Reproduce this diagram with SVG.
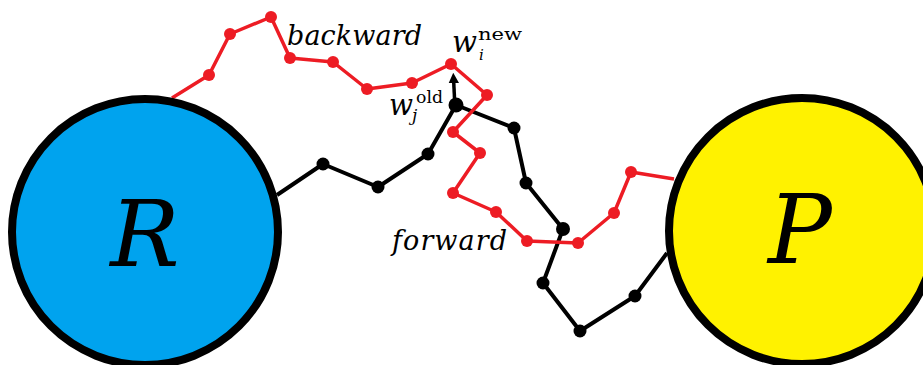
<svg xmlns="http://www.w3.org/2000/svg" width="923" height="365" viewBox="0 0 923 365">
<defs>
<style>
.blk{fill:none;stroke:#000;stroke-width:4;stroke-linejoin:round}
.red{fill:none;stroke:#ED1C24;stroke-width:3.5;stroke-linejoin:round}
.bd{fill:#000}
.rd{fill:#ED1C24}
.node{stroke:#000;stroke-width:8}
</style>
<marker id="ah" viewBox="0 0 10 10" refX="5" refY="5" markerWidth="3" markerHeight="3" orient="auto">
<path d="M0,0 L10,5 L0,10 Z" fill="#000"/>
</marker>
</defs>
<rect width="923" height="365" fill="#fff"/>
<g id="connectors">
<polyline class="blk" points="277,195 323,164 378,187 428,154 456,105 514,128 526,183 563,229 543,283 580,331 635,296 667,253"/>
<g class="bd">
<circle cx="323" cy="164" r="6.5"/><circle cx="378" cy="187" r="6.5"/><circle cx="428" cy="154" r="6.5"/><circle cx="456" cy="105" r="7.5"/><circle cx="514" cy="128" r="6.5"/><circle cx="526" cy="183" r="6.5"/><circle cx="563" cy="229" r="7"/><circle cx="543" cy="283" r="6.5"/><circle cx="580" cy="331" r="6.5"/><circle cx="635" cy="296" r="6.5"/>
</g>
<polyline class="red" points="172,98 209,75 230,34 271,17 290,58 333,62 367,89 412,83 451,64 487,95 453,132 480,153 453,193 496,212 527,241 578,243 614,213 631,172 674,179"/>
<g class="rd">
<circle cx="209" cy="75" r="6"/><circle cx="230" cy="34" r="6"/><circle cx="271" cy="17" r="6"/><circle cx="290" cy="58" r="6"/><circle cx="333" cy="62" r="6"/><circle cx="367" cy="89" r="6"/><circle cx="412" cy="83" r="6"/><circle cx="451" cy="64" r="6"/><circle cx="487" cy="95" r="6"/><circle cx="453" cy="132" r="6"/><circle cx="480" cy="153" r="6"/><circle cx="453" cy="193" r="6"/><circle cx="496" cy="212" r="6"/><circle cx="527" cy="241" r="6"/><circle cx="578" cy="243" r="6"/><circle cx="614" cy="213" r="6"/><circle cx="631" cy="172" r="6"/>
</g>
<line x1="454.5" y1="98" x2="453.5" y2="78" stroke="#000" stroke-width="3.5" marker-end="url(#ah)"/>
</g>
<g id="node-R">
<circle class="node" cx="145" cy="232" r="133" fill="#00A3EE"/>
<text x="145" y="266" font-family="DejaVu Serif, serif" font-style="italic" font-size="92" text-anchor="middle">R</text>
</g>
<g id="node-P">
<circle class="node" cx="802" cy="231" r="133" fill="#FFF200"/>
<text x="800" y="263" font-family="DejaVu Serif, serif" font-style="italic" font-size="95" text-anchor="middle">P</text>
</g>
<g id="labels" font-family="DejaVu Serif, serif" fill="#000">
<text x="287" y="45" font-style="italic" font-size="27" textLength="135" lengthAdjust="spacing">backward</text>
<text x="392" y="250" font-style="italic" font-size="27" textLength="115" lengthAdjust="spacing">forward</text>
<text x="452" y="52" font-style="italic" font-size="29" textLength="25" lengthAdjust="spacingAndGlyphs">w</text>
<text x="479" y="60" font-style="italic" font-size="15">i</text>
<text x="478" y="40" font-size="17" textLength="44" lengthAdjust="spacingAndGlyphs">new</text>
<text x="389" y="115" font-style="italic" font-size="29" textLength="24" lengthAdjust="spacingAndGlyphs">w</text>
<text x="412" y="121" font-style="italic" font-size="17">j</text>
<text x="416" y="103" font-size="17" textLength="27" lengthAdjust="spacingAndGlyphs">old</text>
</g>
</svg>
